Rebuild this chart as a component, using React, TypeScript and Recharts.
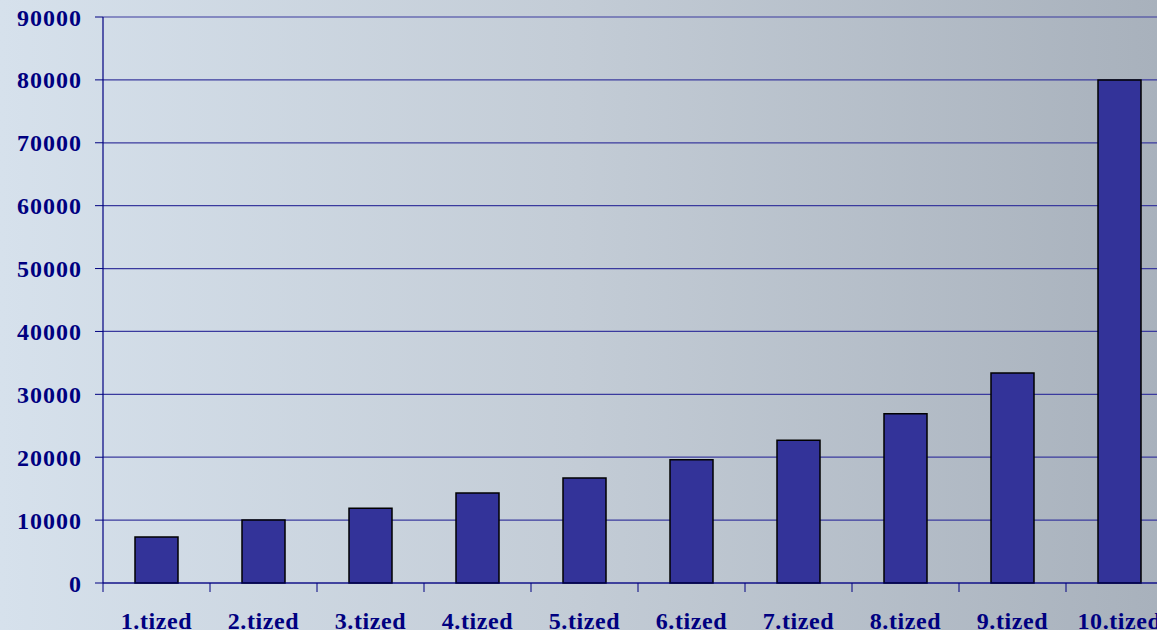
import { Bar, BarChart, CartesianGrid, XAxis, YAxis } from "recharts"

const categories = [
  "1.tized",
  "2.tized",
  "3.tized",
  "4.tized",
  "5.tized",
  "6.tized",
  "7.tized",
  "8.tized",
  "9.tized",
  "10.tized",
]
const values = [7300, 10000, 11900, 14300, 16700, 19600, 22700, 26900, 33400, 80000]
const yTicks = [0, 10000, 20000, 30000, 40000, 50000, 60000, 70000, 80000, 90000]

const NAVY = "#000080"
const GRID = "#3a3a9e"
const FONT = "'Liberation Serif', 'Times New Roman', serif"
const TICK_SIZE = 9
const TICK_MARGIN = 20
const BAND = 107

const data = categories.map((name, i) => ({ name, value: values[i] }))

// x ticks sit on the category boundaries, labels in the middle
function CategoryTick(props: any) {
  const { x, y, payload, index } = props
  const axisY = y - TICK_SIZE - TICK_MARGIN
  const left = x - BAND / 2
  return (
    <g>
      <line x1={left} y1={axisY} x2={left} y2={axisY + TICK_SIZE} stroke={NAVY} strokeWidth={1} />
      {index === categories.length - 1 && (
        <line x1={x + BAND / 2} y1={axisY} x2={x + BAND / 2} y2={axisY + TICK_SIZE} stroke={NAVY} />
      )}
      <text
        x={x}
        y={y + 17}
        textAnchor="middle"
        fill={NAVY}
        fontFamily={FONT}
        fontWeight="bold"
        fontSize={24}
        letterSpacing={0.6}
      >
        {payload.value}
      </text>
    </g>
  )
}

export default function App() {
  return (
    <div
      style={{
        position: "fixed",
        left: 0,
        top: 0,
        width: 1157,
        height: 630,
        overflow: "hidden",
        background: "linear-gradient(to right, #d6e1ec 0%, #c3ccd6 50%, #a8b1bc 100%)",
      }}
    >
      <BarChart
        width={1180}
        height={630}
        data={data}
        margin={{ top: 17, right: 7, bottom: 0, left: 0 }}
        barSize={43}
      >
        <CartesianGrid vertical={false} stroke={GRID} strokeWidth={1.2} />
        <XAxis
          dataKey="name"
          height={47}
          interval={0}
          axisLine={{ stroke: NAVY, strokeWidth: 1 }}
          tickLine={false}
          tickSize={TICK_SIZE}
          tickMargin={TICK_MARGIN}
          tick={<CategoryTick />}
        />
        <YAxis
          width={103}
          domain={[0, 90000]}
          ticks={yTicks}
          interval={0}
          axisLine={{ stroke: NAVY, strokeWidth: 1.2 }}
          tickLine={{ stroke: NAVY }}
          tickSize={8}
          tickMargin={13}
          tick={{
            fill: NAVY,
            fontFamily: FONT,
            fontWeight: "bold",
            fontSize: 24,
            letterSpacing: 1,
          }}
        />
        <Bar
          dataKey="value"
          fill="#333399"
          stroke="#000000"
          strokeWidth={1.5}
          isAnimationActive={false}
        />
      </BarChart>
    </div>
  )
}
